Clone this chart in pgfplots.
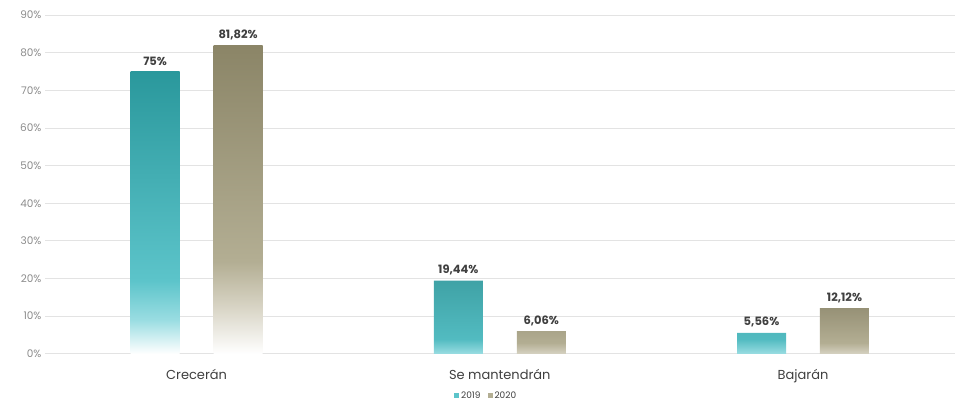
\documentclass[border=0pt]{standalone}
\usepackage{pgfplots}
\pgfplotsset{compat=1.18}
\usepackage{fontspec}
\setmainfont{Poppins}

\definecolor{tealtop}{HTML}{2A989C}
\definecolor{tealmid}{HTML}{5CC4CA}
\definecolor{teallow}{HTML}{9ADDE2}
\definecolor{tantop}{HTML}{8B8567}
\definecolor{tanmid}{HTML}{B3AE93}
\definecolor{tanlow}{HTML}{D6D2C2}
\definecolor{labelgray}{HTML}{3F3F3F}
\definecolor{tickgray}{HTML}{8C8C8C}

% bbox of the path maps to 25bp..75bp
\pgfdeclareverticalshading{tealshade}{100bp}{color(0bp)=(white); color(25bp)=(white);
  color(31bp)=(teallow); color(38bp)=(tealmid); color(75bp)=(tealtop); color(100bp)=(tealtop)}
\pgfdeclareverticalshading{tanshade}{100bp}{color(0bp)=(white); color(25bp)=(white);
  color(33bp)=(tanlow); color(40bp)=(tanmid); color(75bp)=(tantop); color(100bp)=(tantop)}
% short bars: mostly solid, fading only near the base
\pgfdeclareverticalshading{tealshort}{100bp}{color(0bp)=(teallow); color(25bp)=(teallow);
  color(35bp)=(tealmid!80!tealtop); color(75bp)=(tealtop!90!white); color(100bp)=(tealtop!90!white)}
\pgfdeclareverticalshading{tanshort}{100bp}{color(0bp)=(tanlow); color(25bp)=(tanlow);
  color(37bp)=(tanmid); color(75bp)=(tantop!90!white); color(100bp)=(tantop!90!white)}

\begin{document}
\begin{tikzpicture}
\begin{axis}[
    ybar,
    scale only axis,
    width=910pt,
    height=339pt,
    xmin=-0.5, xmax=2.5,
    ymin=0, ymax=90,
    xtick={0,1,2},
    xticklabels={Crecerán, Se mantendrán, Bajarán},
    ytick={0,10,...,90},
    yticklabel={\pgfmathprintnumber{\tick}\%},
    /pgf/number format/assume math mode=true,
    yticklabel style={font=\fontsize{10.5}{12}\selectfont, text=tickgray},
    xticklabel style={font=\fontsize{13}{15}\selectfont, text=labelgray, yshift=-8pt},
    ymajorgrids,
    grid style={gray!22, line width=0.8pt},
    axis line style={draw=none},
    major tick style={draw=none},
    bar width=49pt,
    nodes near coords,
    point meta=explicit symbolic,
    every node near coord/.append style={font=\bfseries\fontsize{11.5}{13}\selectfont, text=labelgray, yshift=2pt},
    legend style={at={(0.485,-0.1)}, anchor=north, draw=none, legend columns=2,
        font=\fontsize{9}{10}\selectfont, text=labelgray,
        /tikz/every even column/.append style={column sep=5pt}},
    legend image code/.code={\fill[#1] (0pt,-2.5pt) rectangle (5pt,2.5pt);},
    clip=false,
]
\addplot[draw=none, shading=tealshade, bar shift=-41.5pt, forget plot] coordinates {(0,75) [75\%]};
\addplot[draw=none, shading=tealshort, bar shift=-41.5pt, forget plot] coordinates {(1,19.44) [19,44\%] (2,5.56) [5,56\%]};
\addplot[draw=none, shading=tanshade, bar shift=41.5pt, forget plot] coordinates {(0,81.82) [81,82\%]};
\addplot[draw=none, shading=tanshort, bar shift=41.5pt, forget plot] coordinates {(1,6.06) [6,06\%] (2,12.12) [12,12\%]};
\addlegendimage{draw=none, fill=tealmid}
\addlegendentry{2019}
\addlegendimage{draw=none, fill=tanmid}
\addlegendentry{2020}
\coordinate (bl) at (rel axis cs:0,0);
\coordinate (tr) at (rel axis cs:1,1);
\end{axis}
\path[use as bounding box] ([shift={(-45pt,-54pt)}]bl) rectangle ([shift={(0pt,15pt)}]tr);
\end{tikzpicture}
\end{document}
